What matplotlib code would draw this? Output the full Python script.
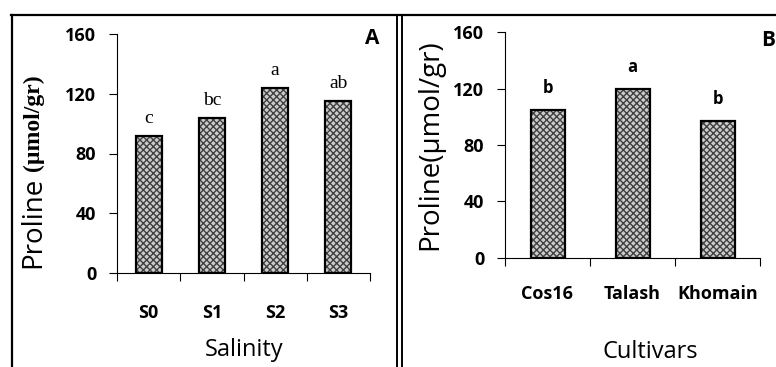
import numpy as np
import matplotlib.pyplot as plt
from matplotlib.lines import Line2D

# --- data ---
salinity = ['S0', 'S1', 'S2', 'S3']
proline_salinity = [92, 104, 124, 115]
letters_salinity = ['c', 'bc', 'a', 'ab']

cultivars = ['Cos16', 'Talash', 'Khomain']
proline_cultivar = [105, 120, 97]
letters_cultivar = ['b', 'a', 'b']

yticks = [0, 40, 80, 120, 160]

SANS = 'Open Sans'
SERIF = 'Liberation Serif'
plt.rcParams['font.family'] = [SANS, 'DejaVu Sans']

W, H = 776, 367
fig = plt.figure(figsize=(W / 100, H / 100), dpi=100)


def px(x0, y0, x1, y1):
    # pixel box (top-left origin) -> figure fraction rect
    return [x0 / W, 1 - y1 / H, (x1 - x0) / W, (y1 - y0) / H]


def draw_panel(ax, cats, vals, letters, width, letter_font, letter_off, tick_pad):
    x = np.arange(len(cats))
    ax.bar(x, vals, width=width, color='#cccccc', edgecolor='#404040',
           hatch='xxxxx', linewidth=0, zorder=2)
    ax.bar(x, vals, width=width, facecolor='none', edgecolor='black',
           linewidth=1.6, zorder=3)
    for xi, v, lab in zip(x, vals, letters):
        ax.text(xi, v + letter_off, lab, ha='center', va='bottom', **letter_font)
    ax.set_xlim(-0.5, len(cats) - 0.5)
    ax.set_ylim(0, 160)
    ax.set_yticks(yticks)
    ax.set_xticks(x)
    ax.set_xticklabels(cats)
    ax.set_xticks(np.arange(len(cats) + 1) - 0.5, minor=True)
    ax.tick_params(axis='x', which='major', length=0, pad=tick_pad, labelsize=13)
    ax.tick_params(axis='x', which='minor', length=6, width=0.8, direction='out')
    ax.tick_params(axis='y', length=6, width=0.8, pad=9, labelsize=13)
    for s in ['top', 'right']:
        ax.spines[s].set_visible(False)
    for s in ['left', 'bottom']:
        ax.spines[s].set_linewidth(0.8)
    ax.patch.set_alpha(0)


# --- Panel A ---
axA = fig.add_axes(px(117, 34, 370, 273))
draw_panel(axA, salinity, proline_salinity, letters_salinity, 0.41,
           dict(fontfamily=SERIF, fontsize=14), 6, 22)
fig.text(244 / W, 1 - 350 / H, 'Salinity', ha='center', va='center', fontsize=17)
ylabA = fig.text(33 / W, 1 - 268 / H, 'Proline', rotation=90, ha='center',
                 va='bottom', fontsize=20)
fig.text(372 / W, 1 - 38 / H, 'A', ha='center', va='center',
         fontweight='bold', fontsize=15)

# --- Panel B ---
axB = fig.add_axes(px(505, 32.3, 760, 257.7))
draw_panel(axB, cultivars, proline_cultivar, letters_cultivar, 0.4,
           dict(fontweight='bold', fontsize=12), 9, 20)
fig.text(650 / W, 1 - 352 / H, 'Cultivars', ha='center', va='center', fontsize=17)
fig.text(430 / W, 1 - 145 / H, 'Proline(\u00b5mol/gr)', rotation=90, ha='center',
         va='center', fontsize=20)
fig.text(768 / W, 1 - 40 / H, 'B', ha='center', va='center',
         fontweight='bold', fontsize=15)

# bold tick labels
for ax in (axA, axB):
    for t in ax.get_xticklabels() + ax.get_yticklabels():
        t.set_fontweight('bold')

# serif part of panel A label, placed just above "Proline"
fig.canvas.draw()
bb = ylabA.get_window_extent()
fig.text(33 / W, (bb.y1 + 6) / H, '(\u00b5mol/gr)', rotation=90, ha='center',
         va='bottom', fontfamily=SERIF, fontweight='bold', fontsize=17)

# --- frame lines ---
def fline(xs, ys, lw):
    fig.add_artist(Line2D([x / W for x in xs], [1 - y / H for y in ys],
                          color='black', linewidth=lw, transform=fig.transFigure))

fline([11, 776], [15, 15], 1.6)
fline([12, 12], [15, 367], 1.6)
fline([397.5, 397.5], [15, 367], 1.4)
fline([401.5, 401.5], [15, 367], 1.4)

fig.savefig('out.png', dpi=100)
